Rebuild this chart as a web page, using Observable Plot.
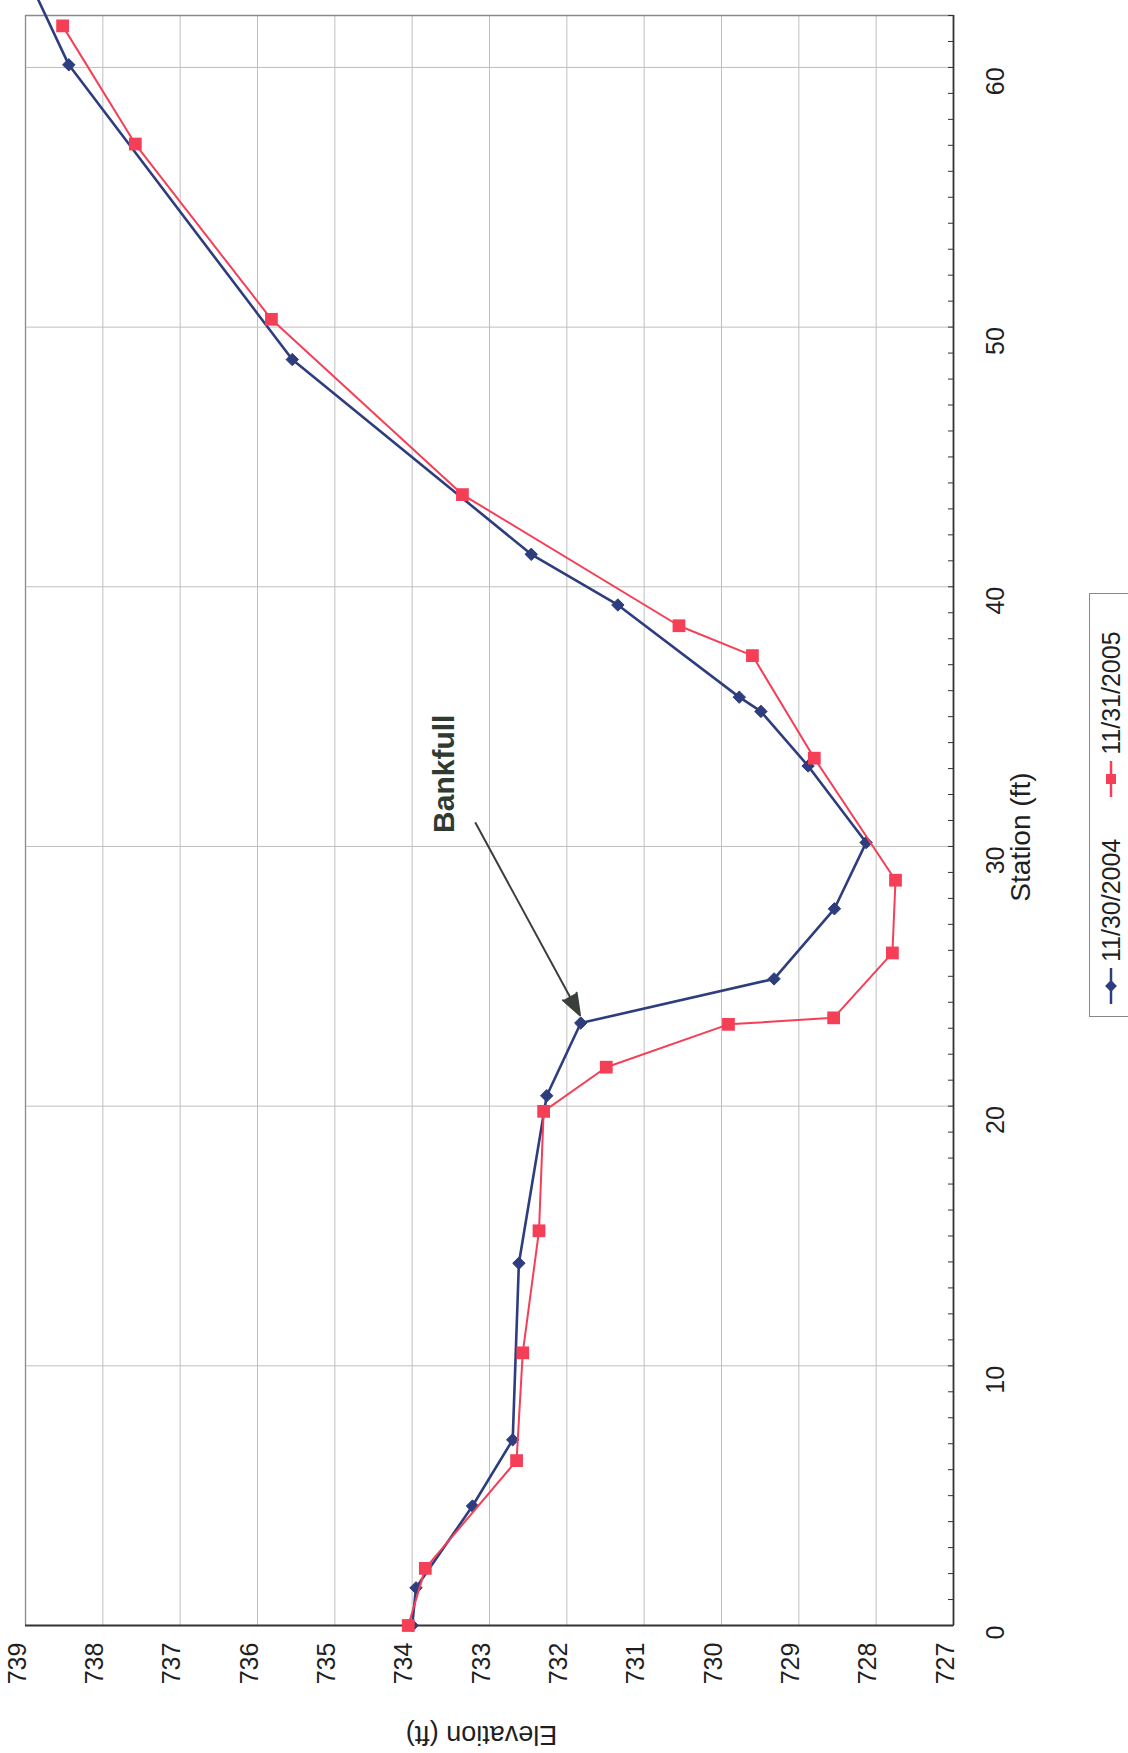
<!DOCTYPE html>
<html>
<head>
<meta charset="utf-8">
<script src="https://cdn.jsdelivr.net/npm/d3@7"></script>
<script src="https://cdn.jsdelivr.net/npm/@observablehq/plot@0.6"></script>
<style>
  html, body { margin: 0; padding: 0; background: #fff; }
  #wrap { position: relative; width: 1128px; height: 1753px; overflow: hidden; font-family: "Liberation Sans", Arial, sans-serif; }
  #legend {
    position: absolute; left: 899px; top: 783px; width: 424px; height: 44px;
    box-sizing: border-box; border: 1px solid #888; background: #fff;
    transform: rotate(-90deg); transform-origin: 50% 50%;
    display: flex; align-items: center; padding-left: 12px;
    font-size: 25px; color: #1f1f1f; white-space: nowrap;
  }
  #legend .item { display: flex; align-items: center; margin-right: 42px; }
  #legend svg { margin-right: 6px; }
</style>
</head>
<body>
<div id="wrap">
  <div id="chart"></div>
  <div id="legend"></div>
</div>
<script>
// Series: station (ft) and elevation (ft)
const series1Name = "11/30/2004";
const series1Station = [0, 1.45, 4.6, 7.15, 13.95, 20.4, 23.2, 24.9, 27.6, 30.15, 33.1, 35.2, 35.75, 39.3, 41.25, 48.75, 60.1, 62.7];
const series1Elev    = [734.0, 733.95, 733.22, 732.7, 732.62, 732.26, 731.82, 729.32, 728.54, 728.13, 728.88, 729.49, 729.77, 731.34, 732.46, 735.55, 738.44, 738.85];

const series2Name = "11/31/2005";
const series2Station = [0, 2.2, 6.35, 10.5, 15.2, 19.8, 21.5, 23.15, 23.4, 25.9, 28.7, 33.4, 37.35, 38.5, 43.55, 50.3, 57.05, 61.6];
const series2Elev    = [734.05, 733.83, 732.65, 732.57, 732.36, 732.3, 731.49, 729.91, 728.55, 727.79, 727.75, 728.8, 729.6, 730.55, 733.35, 735.82, 737.58, 738.52];

// Axes
const stationTicks = [0, 10, 20, 30, 40, 50, 60];
const stationMinorTicks = d3.range(0, 63, 1);
const elevationTicks = [739, 738, 737, 736, 735, 734, 733, 732, 731, 730, 729, 728, 727];
const stationDomain = [0, 62];
const elevationDomain = [739, 727];
const stationTitle = "Station (ft)";
const elevationTitle = "Elevation (ft)";

// Annotation
const annotationText = ["Bankfull"];
const annotationTextPos = [{station: 32.8, elev: 733.58}];
const annotationArrow = [{fromStation: 30.9, fromElev: 733.18, toStation: 23.5, toElev: 731.83}];

const blue = "#2e3d7e";
const red = "#f43f57";
const ink = "#1f1f1f";

const s1 = series1Station.map((s, i) => ({station: s, elev: series1Elev[i]}));
const s2 = series2Station.map((s, i) => ({station: s, elev: series2Elev[i]}));
const inView = d => d.station <= stationDomain[1];

const font = "Liberation Sans, Arial, sans-serif";

const chart = Plot.plot({
  width: 1128,
  height: 1753,
  marginLeft: 25,
  marginRight: 175,
  marginTop: 15,
  marginBottom: 128,
  style: {fontFamily: font, background: "white", color: ink},
  x: {domain: elevationDomain, axis: null},
  y: {domain: stationDomain, axis: null},
  marks: [
    // gridlines
    Plot.ruleX(elevationTicks.filter(d => d !== 739 && d !== 727), {stroke: "#bfbfbf", strokeWidth: 1}),
    Plot.ruleY(stationTicks.filter(d => d !== 0), {stroke: "#bfbfbf", strokeWidth: 1}),
    // frame
    Plot.ruleX([739], {stroke: "#8a8a8a", strokeWidth: 1.3}),
    Plot.ruleY([62], {stroke: "#8a8a8a", strokeWidth: 1.3}),
    Plot.ruleX([727], {stroke: "#333", strokeWidth: 1.8}),
    Plot.ruleY([0], {stroke: "#333", strokeWidth: 1.8}),
    // minor ticks on station axis (pointing inside)
    Plot.axisY({anchor: "right", ticks: stationMinorTicks, tickSize: -6, tickFormat: () => "", stroke: "#333", label: null}),
    // tick labels
    Plot.text(stationTicks, {y: d => d, frameAnchor: "right", dx: 42, rotate: -90, text: d => String(d), fontSize: 25, fill: ink}),
    Plot.text(elevationTicks, {x: d => d, frameAnchor: "bottom", dy: 38, rotate: -90, text: d => String(d), fontSize: 25, fill: ink}),
    // axis titles
    Plot.text([stationTitle], {frameAnchor: "right", dx: 68, dy: -48, rotate: -90, fontSize: 28, fill: ink}),
    Plot.text([elevationTitle], {frameAnchor: "bottom", dx: -8, dy: 100, rotate: 180, fontSize: 27, fill: ink}),
    // series
    Plot.line(s1, {x: "elev", y: "station", stroke: blue, strokeWidth: 2.6}),
    Plot.dot(s1.filter(inView), {x: "elev", y: "station", symbol: "diamond2", r: 5.6, fill: blue, stroke: blue, strokeWidth: 1}),
    Plot.line(s2, {x: "elev", y: "station", stroke: red, strokeWidth: 2}),
    Plot.dot(s2, {x: "elev", y: "station", symbol: "square", r: 7.2, fill: red, stroke: "none"}),
    // annotation
    Plot.arrow(annotationArrow, {x1: "fromElev", y1: "fromStation", x2: "toElev", y2: "toStation", stroke: "#3a3f3a", strokeWidth: 2, headLength: 17, headAngle: 40}),
    Plot.text(annotationTextPos, {x: "elev", y: "station", text: (d, i) => annotationText[i], rotate: -90, fontSize: 30, fontWeight: "bold", fill: "#2f3a30"})
  ]
});
// fill the arrow head (Excel draws a solid triangle)
chart.querySelectorAll('g[aria-label="arrow"] path').forEach(p => p.setAttribute("fill", "#3a3f3a"));
document.getElementById("chart").appendChild(chart);

// Legend (rotated like the rest of the page)
function swatch(color, symbol) {
  const ns = "http://www.w3.org/2000/svg";
  const svg = document.createElementNS(ns, "svg");
  svg.setAttribute("width", 36); svg.setAttribute("height", 20);
  const line = document.createElementNS(ns, "line");
  line.setAttribute("x1", 0); line.setAttribute("x2", 36);
  line.setAttribute("y1", 10); line.setAttribute("y2", 10);
  line.setAttribute("stroke", color); line.setAttribute("stroke-width", 2.5);
  svg.appendChild(line);
  const p = document.createElementNS(ns, "path");
  p.setAttribute("d", d3.symbol(symbol, symbol === d3.symbolSquare ? 100 : 90)());
  p.setAttribute("transform", "translate(18,10)");
  p.setAttribute("fill", color);
  svg.appendChild(p);
  return svg;
}
const legend = document.getElementById("legend");
[[series1Name, blue, d3.symbolDiamond2], [series2Name, red, d3.symbolSquare]].forEach(([name, color, sym]) => {
  const item = document.createElement("div");
  item.className = "item";
  item.appendChild(swatch(color, sym));
  const t = document.createElement("span");
  t.textContent = name;
  item.appendChild(t);
  legend.appendChild(item);
});
</script>
</body>
</html>
